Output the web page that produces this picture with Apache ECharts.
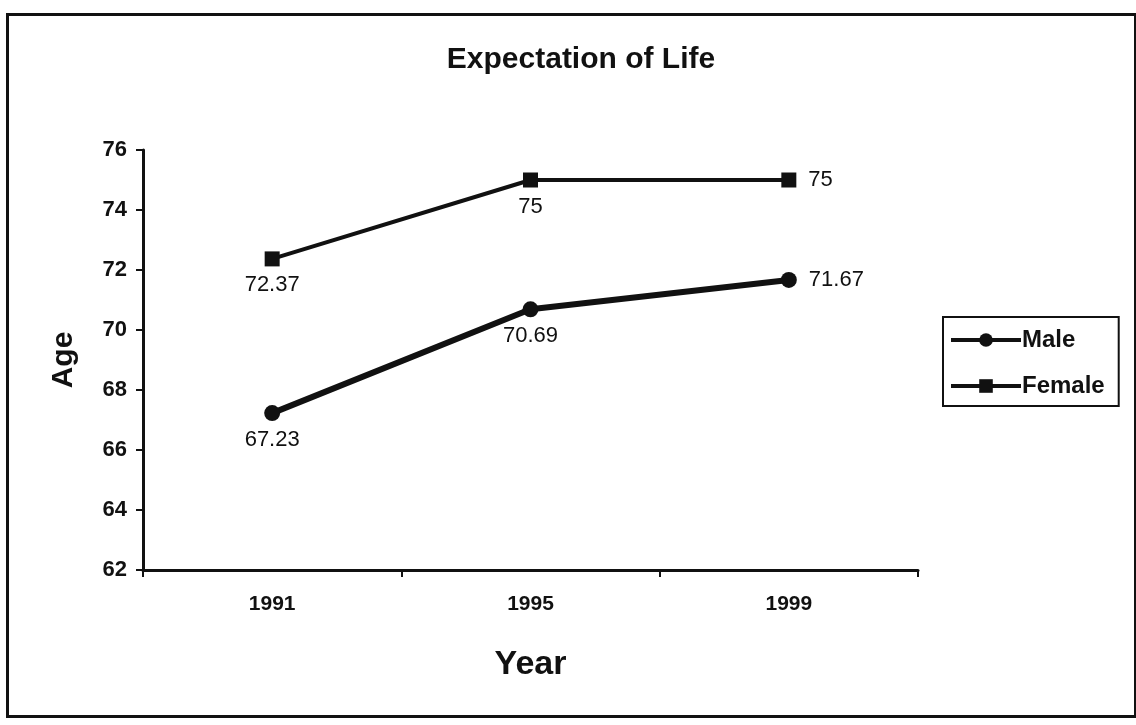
<!DOCTYPE html>
<html>
<head>
<meta charset="utf-8">
<title>Expectation of Life</title>
<script src="https://cdn.jsdelivr.net/npm/echarts@6/dist/echarts.min.js"></script>
<style>
  html, body { margin: 0; padding: 0; background: #fff; }
  #chart { width: 1136px; height: 725px; }
</style>
</head>
<body>
<div id="chart"></div>
<script>
// Life expectancy by census year
const years = ['1991', '1995', '1999'];
const maleAge = [67.23, 70.69, 71.67];
const femaleAge = [72.37, 75, 75];
const ageTicks = { min: 62, max: 76, interval: 2 };

const ink = '#111';
const font = 'Liberation Sans, Arial, sans-serif';

// label below each point except the last, which sits to the right
function labelPositions(values) {
  return values.map((v, i) => {
    const last = i === values.length - 1;
    return { value: v, label: { position: last ? 'right' : 'bottom', distance: last ? 12 : 8 } };
  });
}

const chart = echarts.init(document.getElementById('chart'));
chart.setOption({
  backgroundColor: '#fff',
  animation: false,
  title: {
    text: 'Expectation of Life',
    left: 576,
    top: 40,
    textAlign: 'center',
    textStyle: { fontFamily: font, fontSize: 30, fontWeight: 'bold', color: ink }
  },
  legend: {
    orient: 'vertical',
    left: 943,
    top: 317,
    padding: [11, 14, 8, 6],
    itemGap: 22,
    itemWidth: 70,
    itemHeight: 17,
    borderColor: ink,
    borderWidth: 2,
    borderRadius: 0,
    data: ['Male', 'Female'],
    lineStyle: { width: 4 },
    textStyle: { fontFamily: font, fontSize: 24, fontWeight: 'bold', color: ink, padding: [0, 0, 0, -4] }
  },
  grid: { left: 143, right: 218, top: 150, bottom: 155 },
  xAxis: {
    type: 'category',
    data: years,
    boundaryGap: true,
    name: 'Year',
    nameLocation: 'middle',
    nameGap: 78,
    nameTextStyle: { fontFamily: font, fontSize: 34, fontWeight: 'bold', color: ink },
    axisLine: { lineStyle: { color: ink, width: 3 } },
    axisTick: { show: true, length: 7, lineStyle: { color: ink, width: 2 } },
    axisLabel: { margin: 24, fontFamily: font, fontSize: 21, fontWeight: 'bold', color: ink },
    splitLine: { show: false }
  },
  yAxis: {
    type: 'value',
    min: ageTicks.min,
    max: ageTicks.max,
    interval: ageTicks.interval,
    name: 'Age',
    nameLocation: 'middle',
    nameGap: 64,
    nameRotate: 90,
    nameTextStyle: { fontFamily: font, fontSize: 30, fontWeight: 'bold', color: ink },
    axisLine: { show: true, lineStyle: { color: ink, width: 3 } },
    axisTick: { show: true, length: 7, lineStyle: { color: ink, width: 2 } },
    axisLabel: { margin: 16, fontFamily: font, fontSize: 22, fontWeight: 'bold', color: ink },
    splitLine: { show: false }
  },
  series: [
    {
      name: 'Male',
      type: 'line',
      data: labelPositions(maleAge),
      symbol: 'circle',
      symbolSize: 16,
      itemStyle: { color: ink },
      lineStyle: { color: ink, width: 6 },
      label: { show: true, fontFamily: font, fontSize: 22, color: ink }
    },
    {
      name: 'Female',
      type: 'line',
      data: labelPositions(femaleAge),
      symbol: 'rect',
      symbolSize: 15,
      itemStyle: { color: ink },
      lineStyle: { color: ink, width: 4 },
      label: { show: true, fontFamily: font, fontSize: 22, color: ink }
    }
  ],
  graphic: [
    {
      type: 'rect',
      left: 5,
      top: 12,
      shape: { width: 1128, height: 702 },
      style: { fill: null, stroke: ink, lineWidth: 3 },
      silent: true
    }
  ]
});
</script>
</body>
</html>
